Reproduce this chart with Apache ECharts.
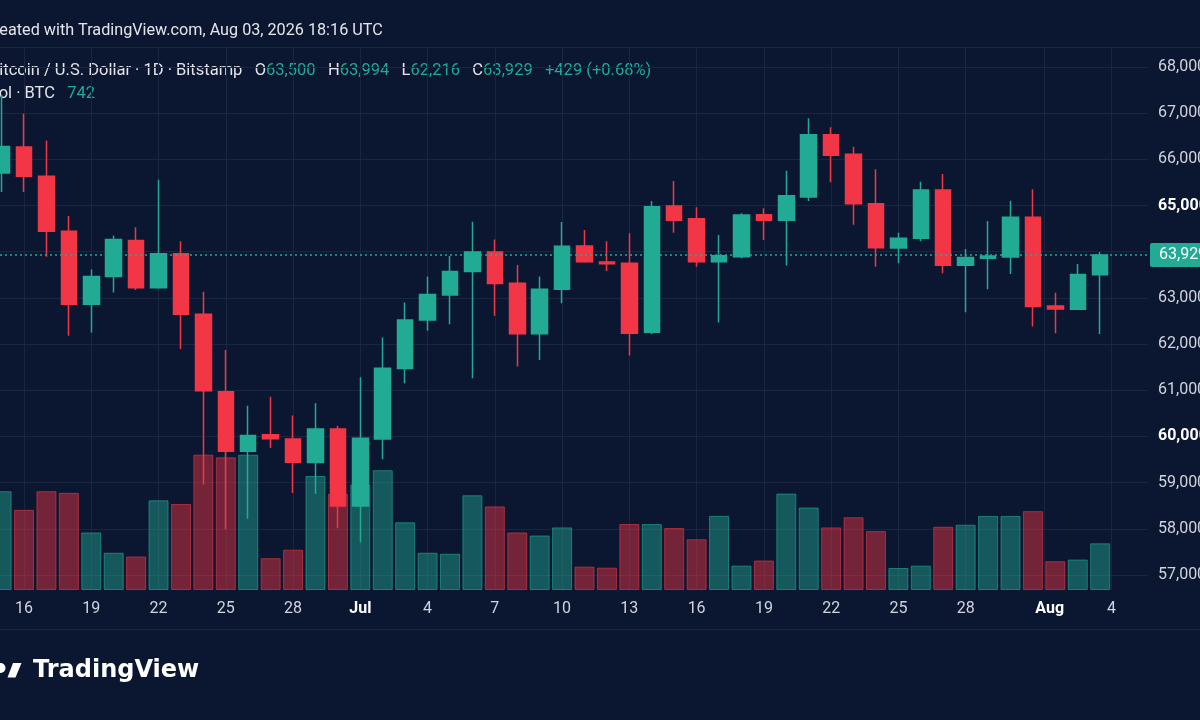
<!DOCTYPE html>
<html>
<head>
<meta charset="utf-8">
<title>BTC/USD 1D</title>
<script src="https://cdn.jsdelivr.net/npm/echarts@6.0.0/dist/echarts.min.js"></script>
<style>
    html, body { margin: 0; padding: 0; background: #0b1631; overflow: hidden; }
    #chart { width: 1200px; height: 720px; }
</style>
</head>
<body>
<div id="chart"></div>
<script>
// daily candles, Jun 15 .. Aug 03 (index 0 = Jun 15)
var dates = ['Jun 15','Jun 16','Jun 17','Jun 18','Jun 19','Jun 20','Jun 21','Jun 22','Jun 23','Jun 24',
    'Jun 25','Jun 26','Jun 27','Jun 28','Jun 29','Jun 30','Jul 1','Jul 2','Jul 3','Jul 4',
    'Jul 5','Jul 6','Jul 7','Jul 8','Jul 9','Jul 10','Jul 11','Jul 12','Jul 13','Jul 14',
    'Jul 15','Jul 16','Jul 17','Jul 18','Jul 19','Jul 20','Jul 21','Jul 22','Jul 23','Jul 24',
    'Jul 25','Jul 26','Jul 27','Jul 28','Jul 29','Jul 30','Jul 31','Aug 1','Aug 2','Aug 3'];
var opens = [65704,66266,65632,64444,62860,63465,64242,63220,63954,62644,
    60966,59678,60038,59944,59434,60162,58495,59946,61469,62522,
    63064,63569,63995,63316,62226,63186,64124,63778,63749,62255,
    64990,64716,63785,63893,64803,64680,65185,66535,66109,65041,
    64081,64290,65337,63706,63857,63886,64745,62825,62753,63500];
var highs = [67400,66986,66410,64775,63616,64350,64530,65560,64228,63134,
    61874,60664,60858,60455,60718,60234,61281,62140,62898,63461,
    63908,64651,64262,63713,63461,64644,64471,64225,64399,65099,
    65532,64962,64363,64832,64940,65755,66889,66694,66275,65784,
    64413,65517,65683,64060,64666,65106,65351,63114,63735,63994];
var lows = [65294,65294,63890,62183,62248,63119,63170,63198,61895,58958,
    57986,58216,59750,58778,58755,58012,57701,59506,61151,62291,
    62429,61259,62616,61512,61656,62883,63760,63583,61750,62212,
    64413,63677,62465,63857,64254,63699,65099,65503,64586,63677,
    63749,64225,63533,62688,63186,63518,62378,62234,62740,62216];
var closes = [66280,65632,64444,62860,63465,64264,63220,63954,62644,60988,
    59678,60023,59951,59440,60162,58495,59960,61476,62522,63071,
    63569,63995,63309,62226,63186,64117,63785,63742,62234,64976,
    64680,63785,63915,64796,64680,65214,66535,66087,65041,64088,
    64290,65337,63706,63872,63908,64745,62811,62760,63504,63929];
var volumes = [1570,1274,1570,1544,914,592,532,1425,1366,2150,
    2108,2150,505,640,1811,1530,1677,1903,1076,592,
    576,1505,1328,914,866,995,371,355,1048,1048,
    984,806,1177,387,468,1532,1311,995,1156,936,
    350,387,1005,1037,1177,1177,1253,457,484,742];

// time axis labels (day index) and price axis ticks
var tickIdx = [1,4,7,10,13,16,19,22,25,28,31,34,37,40,43,46.5,49.5];
var labelIdx = [1,4,7,10,13,16,19,22,25,28,31,34,37,40,43,46.75,49.5];
var tickLabels = ['16','19','22','25','28','Jul','4','7','10','13','16','19','22','25','28','Aug','4'];
var priceTicks = [57000,58000,59000,60000,61000,62000,63000,64000,65000,66000,67000,68000];

var UP = '#22ab94', DOWN = '#f23645';
var GRID = '#1a253f';
var TXT = '#d1d4dc';
var FONT = 'Roboto';

function fmt(v) {
    return Math.round(v).toString().replace(/\B(?=(\d{3})+(?!\d))/g, ',');
}

function initChart() {
    var candles = [], vols = [];
    for (var i = 0; i < dates.length; i++) {
        candles.push([i, opens[i], closes[i], lows[i], highs[i]]);
        var up = closes[i] >= opens[i];
        vols.push({
            value: [i, volumes[i]],
            itemStyle: {
                color: up ? 'rgba(34,171,148,0.45)' : 'rgba(242,54,69,0.45)',
                borderColor: up ? 'rgba(34,171,148,0.6)' : 'rgba(242,54,69,0.6)'
            }
        });
    }
    var last = dates.length - 1;
    var lastUp = closes[last] >= opens[last];
    var chg = closes[last] - opens[last];
    var sp = '   ';

    var chart = echarts.init(document.getElementById('chart'));
    chart.setOption({
        backgroundColor: '#0b1631',
        animation: false,
        textStyle: { fontFamily: FONT },
        grid: { left: 0, right: 52, top: 48, bottom: 130, outerBoundsMode: 'none' },
        xAxis: {
            type: 'value',
            min: -0.0714,
            max: 51.133,
            axisLine: { show: false },
            axisTick: { show: false, customValues: tickIdx },
            splitLine: { show: true, lineStyle: { color: GRID, width: 1 } },
            axisLabel: {
                customValues: labelIdx,
                margin: 11,
                color: TXT,
                fontSize: 16,
                fontFamily: FONT,
                formatter: function (v) {
                    var k = labelIdx.indexOf(v);
                    var t = k >= 0 ? tickLabels[k] : '';
                    return (t === 'Jul' || t === 'Aug') ? '{b|' + t + '}' : t;
                },
                rich: { b: { fontWeight: 'bold', fontSize: 16, color: '#fff', fontFamily: FONT } }
            }
        },
        yAxis: [
            {
                type: 'value',
                position: 'right',
                min: 56675,
                max: 68411,
                axisLine: { show: false },
                axisTick: { show: false, customValues: priceTicks },
                splitLine: { show: true, lineStyle: { color: GRID, width: 1 } },
                axisLabel: {
                    customValues: priceTicks,
                    margin: 10,
                    color: TXT,
                    fontSize: 16,
                    fontFamily: FONT,
                    formatter: function (v) {
                        return v % 5000 === 0 ? '{b|' + fmt(v) + '}' : fmt(v);
                    },
                    rich: { b: { fontWeight: 'bold', fontSize: 16, color: '#fff', fontFamily: FONT } }
                }
            },
            {
                type: 'value',
                min: 0,
                max: 8612,
                show: false,
                splitLine: { show: false }
            }
        ],
        graphic: [
            { type: 'line', silent: true, shape: { x1: 0, y1: 47.5, x2: 1200, y2: 47.5 }, style: { stroke: GRID, lineWidth: 1 } },
            { type: 'line', silent: true, shape: { x1: 0, y1: 629.5, x2: 1200, y2: 629.5 }, style: { stroke: GRID, lineWidth: 1 } },
            {
                type: 'text', x: -16.5, y: 31, silent: true,
                style: { text: 'Created with TradingView.com, Aug 03, 2026 18:16 UTC', fill: '#e3e5ea', font: '16.2px Roboto', verticalAlign: 'middle' }
            },
            {
                type: 'text', x: -11, y: 71, silent: true,
                style: {
                    text: '{w|Bitcoin / U.S. Dollar · 1D · Bitstamp' + sp + 'O}{g|' + fmt(opens[last]) + '}{w|' + sp + 'H}{g|' + fmt(highs[last]) +
                        '}{w|' + sp + 'L}{g|' + fmt(lows[last]) + '}{w|' + sp + 'C}{g|' + fmt(closes[last]) + sp + (chg >= 0 ? '+' : '') + fmt(chg) +
                        ' (' + (chg >= 0 ? '+' : '') + (chg / opens[last] * 100).toFixed(2) + '%)}',
                    verticalAlign: 'middle',
                    font: '16.5px Roboto',
                    rich: {
                        w: { fill: '#e3e5ea', font: '16.5px Roboto' },
                        g: { fill: UP, font: '16.5px Roboto' }
                    }
                }
            },
            {
                type: 'text', x: -11.5, y: 94, silent: true,
                style: {
                    text: '{w|Vol · BTC' + sp + '}{g|' + fmt(volumes[last]) + '}',
                    verticalAlign: 'middle',
                    font: '16.5px Roboto',
                    rich: {
                        w: { fill: '#e3e5ea', font: '16.5px Roboto' },
                        g: { fill: UP, font: '16.5px Roboto' }
                    }
                }
            },
            // logo
            { type: 'circle', silent: true, shape: { cx: 0.5, cy: 668, r: 5 }, style: { fill: '#fff' } },
            { type: 'polygon', silent: true, shape: { points: [[13, 663], [21.5, 663], [15.5, 677.5], [7.5, 677.5]] }, style: { fill: '#fff' } },
            {
                type: 'text', x: 33, y: 671, silent: true,
                style: { text: 'TradingView', fill: '#fff', font: 'bold 24px "DejaVu Sans"', verticalAlign: 'middle' }
            }
        ],
        series: [
            {
                name: 'Vol',
                type: 'bar',
                yAxisIndex: 1,
                barWidth: 20,
                itemStyle: { borderWidth: 1 },
                data: vols,
                markLine: {
                    silent: true,
                    symbol: ['none', 'none'],
                    lineStyle: { opacity: 0 },
                    label: {
                        position: 'end',
                        distance: 2,
                        formatter: fmt(volumes[last]),
                        color: '#fff',
                        fontSize: 16,
                        fontFamily: FONT,
                        backgroundColor: lastUp ? UP : DOWN,
                        padding: [4, 9, 4, 9],
                        borderRadius: 2
                    },
                    data: [{ yAxis: volumes[last] }]
                }
            },
            {
                name: 'BTCUSD',
                type: 'candlestick',
                barWidth: 16,
                encode: { x: 0, y: [1, 2, 3, 4] },
                itemStyle: {
                    color: UP,
                    color0: DOWN,
                    borderColor: UP,
                    borderColor0: DOWN,
                    borderWidth: 1.5
                },
                data: candles,
                markLine: {
                    silent: true,
                    symbol: ['none', 'none'],
                    lineStyle: { color: UP, type: [2, 3], width: 1.5 },
                    label: {
                        position: 'end',
                        distance: 2,
                        formatter: fmt(closes[last]),
                        color: '#fff',
                        fontSize: 16,
                        fontFamily: FONT,
                        backgroundColor: lastUp ? UP : DOWN,
                        padding: [4, 9, 4, 9],
                        borderRadius: 2
                    },
                    data: [{ yAxis: closes[last] }]
                }
            }
        ]
    });
}

initChart();
</script>
</body>
</html>
